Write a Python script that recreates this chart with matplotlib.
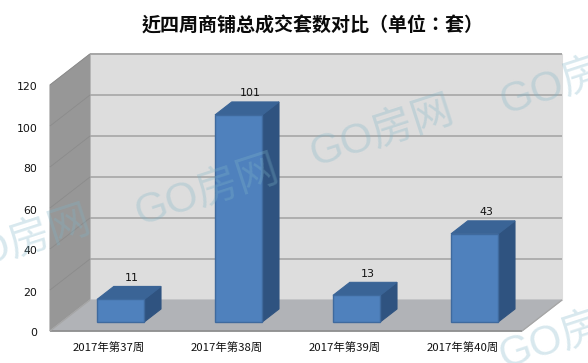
import matplotlib
matplotlib.use("Agg")
import matplotlib.pyplot as plt
from matplotlib.transforms import ScaledTranslation

plt.rcParams['font.family'] = ['Noto Sans CJK SC', 'DejaVu Sans']

title = "近四周商铺总成交套数对比（单位：套）"
categories = ["2017年第37周", "2017年第38周", "2017年第39周", "2017年第40周"]
values = [11, 101, 13, 43]
y_ticks = [0, 20, 40, 60, 80, 100, 120]
watermarks = [(382, 132), (207, 191), (19, 242), (572, 80), (571, 334)]

W, H = 588, 363
AX_L, AX_R, AX_T, AX_B = 50, 522, 85, 331
DEPTH_X, DEPTH_Y = 40, 31
BAR_W = 0.40
D0, D1 = 0.29, 0.71

fig = plt.figure(figsize=(W / 100, H / 100), dpi=100, facecolor='white')
ax = fig.add_axes([AX_L / W, 1 - AX_B / H, (AX_R - AX_L) / W, (AX_B - AX_T) / H])
ax.set_xlim(0, 4)
ax.set_ylim(0, 120)
ax.patch.set_visible(False)
for s in ax.spines.values():
    s.set_visible(False)

ux = (AX_R - AX_L) / 4
uy = (AX_B - AX_T) / 120


def P(x, v, d):
    """oblique projection: data x, value, depth 0..1 -> axes data coords"""
    return (x + d * DEPTH_X / ux, v + d * DEPTH_Y / uy)


def poly(pts, fc, ec=None, z=1, lw=0.8):
    xs, ys = zip(*pts)
    ax.fill(xs, ys, facecolor=fc, edgecolor=ec if ec else fc, linewidth=lw, zorder=z, clip_on=False)


def line(a, b, c, lw, z=2):
    ax.plot([a[0], b[0]], [a[1], b[1]], color=c, lw=lw, zorder=z, clip_on=False, solid_capstyle='butt')


# walls and floor
poly([P(0, 0, 1), P(4, 0, 1), P(4, 120, 1), P(0, 120, 1)], '#DDDDDD')
poly([P(0, 0, 0), P(0, 0, 1), P(0, 120, 1), P(0, 120, 0)], '#979797')
poly([P(0, 0, 0), P(4, 0, 0), P(4, 0, 1), P(0, 0, 1)], '#B1B3B7')

for t in y_ticks:
    if t > 0:
        line(P(0, t, 1), P(4, t, 1), '#A6A6A6', 1.2)
        line(P(0, t, 0), P(0, t, 1), '#8B8B8B', 0.6)
line(P(0, 0, 0), P(4, 0, 0), '#8C8C8C', 1.2)
line(P(4, 0, 0), P(4, 0, 1), '#A6A6A6', 0.9)
line(P(0, 0, 0), P(0, 0, 1), '#A6A6A6', 0.9)
line(P(0, 120, 1), P(4, 120, 1), '#A6A6A6', 1.2)

# bars
for i, v in enumerate(values):
    x0 = i + 0.5 - BAR_W / 2
    x1 = i + 0.5 + BAR_W / 2
    poly([P(x1, 0, D0), P(x1, 0, D1), P(x1, v, D1), P(x1, v, D0)], '#2F5380', z=5)
    poly([P(x0, v, D0), P(x1, v, D0), P(x1, v, D1), P(x0, v, D1)], '#3A6496', z=5)
    poly([P(x0, 0, D0), P(x1, 0, D0), P(x1, v, D0), P(x0, v, D0)], '#4F81BD', ec='#3F6A9E', z=6, lw=1.0)
    ax.annotate(str(v), xy=P(i + 0.5, v, 0.5), xytext=(2.2, 10.8), textcoords='offset points',
                ha='center', va='center', fontsize=7.9, family='DejaVu Sans', color='#111111', zorder=8,
                annotation_clip=False)

# axes labels
ax.set_xticks([i + 0.5 for i in range(4)], categories)
ax.set_yticks(y_ticks, [str(t) for t in y_ticks])
ax.tick_params(axis='x', length=0, pad=8, labelsize=8.2, labelcolor='#111111')
ax.tick_params(axis='y', length=0, pad=9, labelsize=7.8, labelcolor='#111111')
shift = ScaledTranslation(0, -1.5 / 100, fig.dpi_scale_trans)
for lb in ax.get_yticklabels():
    lb.set_family('DejaVu Sans')
    lb.set_transform(lb.get_transform() + shift)

fig.text(313 / W, 1 - 26 / H, title, ha='center', va='center', fontsize=13.7, fontweight='bold',
         family=['Noto Sans CJK TC', 'DejaVu Sans'], color='#0A0A0A')

# watermarks
for wx, wy in watermarks:
    fig.text(wx / W, 1 - wy / H, "GO房网", ha='center', va='center', rotation=18, rotation_mode='anchor',
             fontsize=42 * 0.72, family=['Liberation Sans', 'Noto Sans CJK SC'], color='#7FB5C8', alpha=0.3,
             zorder=20)

fig.savefig('out.png', dpi=100)
